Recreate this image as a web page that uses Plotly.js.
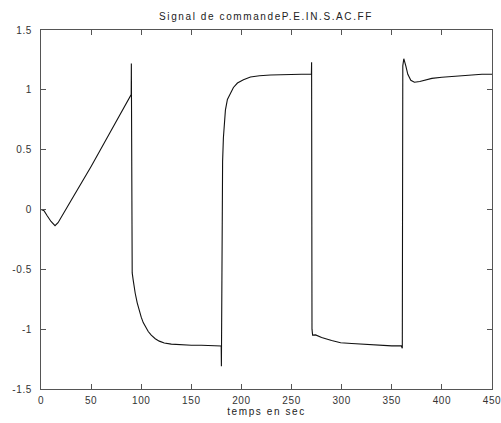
<!DOCTYPE html>
<html>
<head>
<meta charset="utf-8">
<script src="https://cdn.plot.ly/plotly-3.0.1.min.js"></script>
<style>
  html, body { margin: 0; padding: 0; background: #fff; overflow: hidden; }
  #chart { width: 501px; height: 423px; }
  .gtitle, .xtitle { letter-spacing: 1.6px; }
  .xtick text, .ytick text { letter-spacing: 0.6px; }
</style>
</head>
<body>
<div id="chart"></div>
<script>
// Time samples (s)
const tempsSec = [
  0, 3, 6, 10, 14, 17, 30, 50, 70, 90,
  90.15, 90.5, 91, 92, 93, 94, 96, 98, 100, 102, 104, 107, 110, 114, 118, 123, 130, 139, 150, 160, 170, 179.8,
  180, 180.3, 180.7, 181.2, 182, 183, 184, 186, 189, 192, 196, 202, 209, 218, 229, 240, 250, 260, 269.8,
  270, 270.4, 271, 274, 280, 290, 299, 310, 326, 340, 350, 359.5, 360.5,
  361, 362, 364, 366, 369, 372.6, 378, 385, 390, 400, 417, 430, 440, 450
];
// Command signal values
const signalCommande = [
  0.0, -0.01, -0.05, -0.10, -0.135, -0.11, 0.075, 0.36, 0.66, 0.96,
  1.22, -0.45, -0.53, -0.59, -0.65, -0.70, -0.78, -0.845, -0.90, -0.945, -0.98, -1.02, -1.05, -1.08, -1.10, -1.115, -1.125, -1.13, -1.135, -1.135, -1.135, -1.14,
  -1.31, -0.4, 0.05, 0.4, 0.6, 0.74, 0.83, 0.92, 0.97, 1.02, 1.057, 1.085, 1.107, 1.118, 1.124, 1.128, 1.13, 1.13, 1.13,
  1.23, -1.0, -1.05, -1.048, -1.07, -1.095, -1.113, -1.12, -1.13, -1.135, -1.14, -1.14, -1.16,
  1.2, 1.26, 1.2, 1.13, 1.08, 1.063, 1.07, 1.085, 1.096, 1.105, 1.118, 1.125, 1.13, 1.13
];
const xTicks = [0, 50, 100, 150, 200, 250, 300, 350, 400, 450];
const yTicks = [-1.5, -1, -0.5, 0, 0.5, 1, 1.5];
const yTickLabels = ['-1.5', '-1', '-0.5', '0', '0.5', '1', '1.5'];

const trace = {
  x: tempsSec,
  y: signalCommande,
  type: 'scatter',
  mode: 'lines',
  line: { color: '#111', width: 1.1 },
  hoverinfo: 'skip'
};

const axisCommon = {
  showgrid: false,
  zeroline: false,
  showline: true,
  linecolor: '#555',
  linewidth: 1,
  mirror: 'ticks',
  ticks: 'inside',
  ticklen: 5,
  tickcolor: '#555',
  ticklabeloverflow: 'allow',
  tickfont: { family: 'Liberation Sans, Arial, sans-serif', size: 10, color: '#333' }
};

const layout = {
  width: 501,
  height: 423,
  margin: { l: 41, r: 9, t: 30, b: 34 },
  paper_bgcolor: '#fff',
  plot_bgcolor: '#fff',
  showlegend: false,
  title: {
    text: 'Signal de commandeP.E.IN.S.AC.FF',
    font: { family: 'Liberation Sans, Arial, sans-serif', size: 10, color: '#222' },
    x: 0.531, xanchor: 'center', y: 0.962, yanchor: 'middle'
  },
  xaxis: Object.assign({}, axisCommon, {
    range: [0, 450],
    tickvals: xTicks,
    ticktext: xTicks.map(String),
    ticklabelstandoff: 2,
    title: { text: 'temps en sec', standoff: 1,
      font: { family: 'Liberation Sans, Arial, sans-serif', size: 10, color: '#222' } }
  }),
  yaxis: Object.assign({}, axisCommon, {
    range: [-1.5, 1.5],
    tickvals: yTicks,
    ticktext: yTickLabels,
    ticklabelstandoff: 6
  })
};

Plotly.newPlot('chart', [trace], layout, { displayModeBar: false, staticPlot: true });
</script>
</body>
</html>
